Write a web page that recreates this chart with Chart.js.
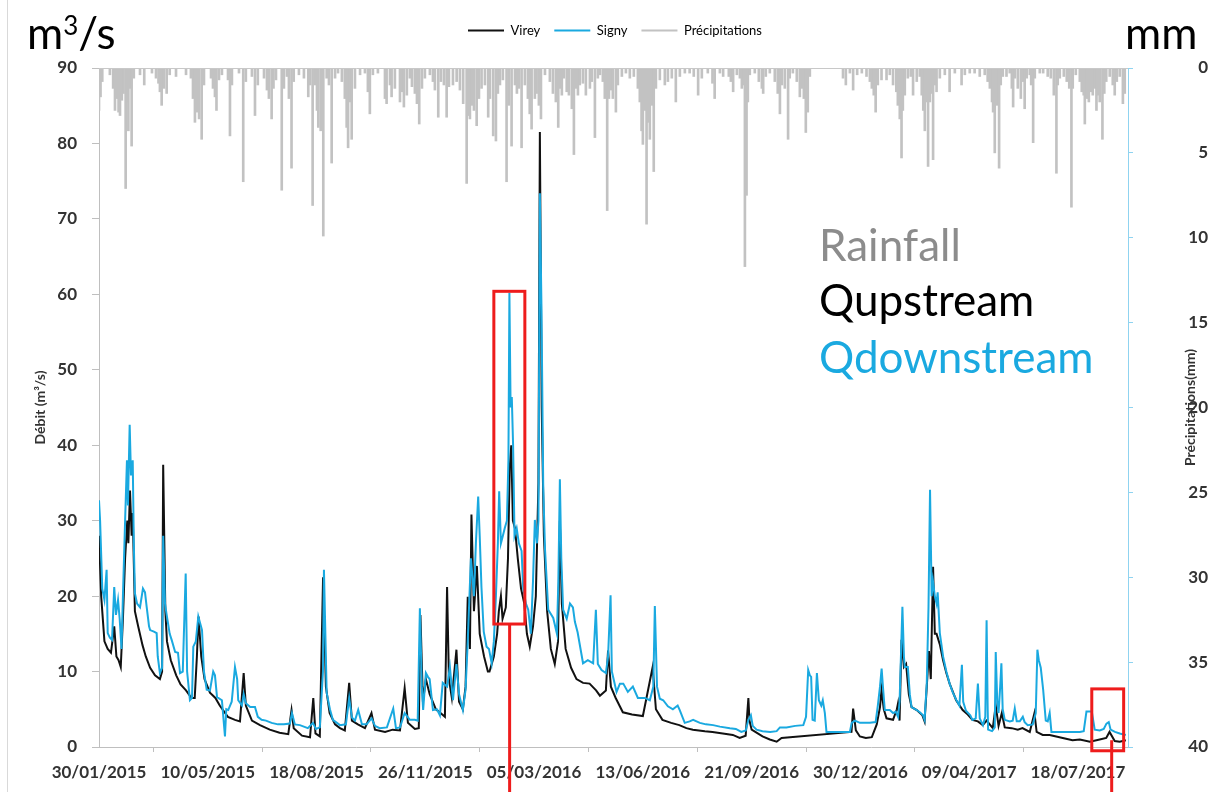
<!DOCTYPE html>
<html>
<head>
<meta charset="utf-8">
<script src="https://cdn.jsdelivr.net/npm/chart.js@4.4.1/dist/chart.umd.min.js"></script>
<style>
  html, body { margin: 0; padding: 0; background: #fff; }
  #wrap { position: relative; width: 1208px; height: 792px; overflow: hidden; }
  #wrap canvas { position: absolute; left: 0; top: 0; }
  .note { position: absolute; font-family: Lato, 'Open Sans', sans-serif; font-size: 44px; line-height: 1; white-space: nowrap; }
  .note .sup { font-size: 26px; line-height: 0; vertical-align: 14px; }
</style>
</head>
<body>
<div id="wrap">
  <canvas id="hydro" width="1208" height="792"></canvas>
  <div class="note" style="left:27px;top:10px;color:#000">m<span class="sup">3</span>/s</div>
  <div class="note" style="left:1125px;top:10px;color:#000">mm</div>
  <div class="note" style="left:819px;top:222px;color:#8c8c8c">Rainfall</div>
  <div class="note" style="left:819px;top:277px;color:#000">Qupstream</div>
  <div class="note" style="left:819px;top:334px;color:#1aa9e0">Qdownstream</div>
</div>
<script>
// jours comptés depuis le 30/01/2015
const vireyDays = [
  0, 2, 5, 8, 11, 14, 16, 18, 20, 22,
  24, 26, 27, 28.5, 30, 31, 33, 36, 40, 43,
  47, 51.5, 56, 58, 59, 61, 62.5, 66, 71, 75,
  80, 85, 88, 90, 91.5, 94, 97, 102, 107, 111,
  118.5, 125, 129.6, 133, 135, 140.6, 148, 157, 166, 174,
  177, 179, 186.6, 194, 197, 199, 203, 206, 208.6, 212,
  217, 221.5, 226, 230, 232.5, 238, 244.5, 250.5, 253.7, 263,
  270, 276.7, 281, 284, 290.4, 294, 295.5, 297.8, 300.5, 304,
  309.7, 314, 318, 320, 321.7, 324.4, 328.6, 331, 334.5, 337,
  339, 341, 342.4, 344.7, 347.4, 350, 354, 357.5, 359, 363,
  366, 367.6, 369.5, 371, 374, 376, 377.6, 379, 380.5, 382.4,
  385, 388, 391, 393.4, 396, 399, 401.6, 404, 405.3, 407,
  409, 412, 415.4, 419, 422, 423.7, 425.5, 429, 434, 439,
  445, 451, 457, 460.5, 466, 468, 470.6, 475, 481.6, 490,
  500, 509, 512, 518, 526, 533.5, 540, 546, 557, 564,
  573.5, 582.7, 589, 594.5, 597, 598, 600, 605.6, 610, 616.7,
  623, 627.5, 691.8, 693.3, 695.8, 699.5, 705, 710.5, 715, 718,
  719.4, 721.5, 724, 730, 733.5, 734.6, 736, 737.8, 740, 742,
  744.5, 747, 751.8, 757, 759, 761, 763, 764.7, 766.8, 768.4,
  770, 773, 776, 779, 782, 788, 794, 798.7, 803, 808,
  812.5, 816, 821.7, 824.4, 827, 830, 832.7, 839, 844.7, 849,
  855.7, 860, 862, 867.6, 874, 880, 886, 895, 901.7, 911,
  920, 926, 929, 933.8, 938.4, 944
];
const vireyQ = [
  28, 20, 14, 13, 12.5, 16, 12, 11.5, 10.6, 17,
  25, 30, 27, 34, 28, 31, 18, 16, 13.5, 12,
  10.5, 9.5, 9, 10, 37.4, 18, 14, 11.5, 9.5, 8.3,
  7.5, 6.5, 6.5, 12, 17.3, 12, 9, 7.2, 6.5, 5.5,
  4, 3.6, 3.4, 9.8, 5.5, 3.5, 2.9, 2.3, 1.9, 1.7,
  4.9, 2.5, 1.5, 1.3, 6.5, 1.8, 1.4, 22.5, 8, 4.5,
  3, 2.5, 2.2, 8.5, 3.5, 3, 2.5, 4.5, 2.3, 2,
  2.3, 2.2, 7.8, 3.2, 2.4, 2.5, 17.5, 6, 9, 7,
  5, 4.5, 4, 21.2, 9, 6.5, 12.9, 6, 5, 8,
  19.9, 13, 30.8, 18, 24, 15, 12, 10, 10, 12,
  15, 18, 20, 17, 18.5, 25, 37, 40, 30, 29,
  25, 21, 19, 15, 13.3, 16, 20, 35, 81.5, 45,
  28, 18, 13, 11, 14, 30, 19, 13, 10.5, 9,
  8.5, 8.4, 7.5, 6.8, 7.5, 12.8, 8, 6.5, 4.6, 4.3,
  4.1, 10.6, 5, 3.6, 3.2, 2.9, 2.5, 2.3, 2.1, 2,
  1.8, 1.6, 1.2, 1.5, 6.5, 3.5, 2.3, 1.8, 1.4, 1,
  0.7, 1.2, 2, 5.1, 2.2, 1.4, 1.2, 1.3, 3, 5.3,
  7.6, 5, 3.8, 3.6, 5, 5.8, 3.5, 14.2, 10.6, 11,
  7, 5.3, 4.9, 4.2, 3.4, 8, 12.7, 9, 23.9, 15,
  15, 13.6, 11.5, 9.8, 8.4, 6.2, 4.9, 4.3, 3.6, 3.4,
  2.9, 3.5, 2.5, 5.5, 2.8, 4.5, 2.6, 2.5, 2.3, 2.5,
  2, 4.5, 2, 1.6, 1.6, 1.4, 1.2, 0.9, 1, 0.7,
  1, 1.2, 2, 0.8, 0.7, 0.9
];

const signyDays = [
  0, 1, 3, 5, 7, 8, 10, 12, 14, 15.6,
  17.5, 19, 20.7, 22, 24, 25.7, 26.6, 28.2, 29.4, 31,
  32, 33, 35, 37.7, 40.4, 42.3, 43.8, 46, 47, 50.5,
  53, 54, 56, 58, 59, 60.7, 62, 65, 66.8, 70,
  72.6, 74.5, 77, 79.7, 81, 83.6, 85.5, 86.7, 89, 91.3,
  92.8, 94.7, 96.5, 99, 102, 105, 106.6, 108.5, 113, 115.8,
  117, 118.8, 122, 125, 127, 128, 131.4, 133, 135, 139,
  143.4, 146, 149.5, 153.5, 158.7, 164.5, 170, 175.5, 177.4, 180,
  184.7, 192, 196.7, 199.4, 203, 205.9, 206.8, 209.3, 212.3, 215,
  221.5, 227, 230, 232.5, 235.3, 238.3, 241.7, 246, 250.6, 253.7,
  258, 264.7, 270.5, 273, 276.7, 281, 285.8, 290.4, 293, 295,
  296.8, 298, 300.5, 302.4, 304, 307, 310.7, 313.4, 316, 320,
  322.6, 325.4, 328.6, 331, 334.5, 337, 339, 341.9, 344.7, 346.5,
  348.6, 350, 351.6, 353.7, 356.3, 358.5, 361, 363, 364.9, 366.7,
  367.9, 369.5, 371.3, 373, 375, 376.4, 377.3, 378.4, 379.5, 380.7,
  382, 384, 386, 388.5, 390, 392.5, 394.6, 397, 399, 400.7,
  402.6, 404, 405.3, 406.8, 408.4, 410, 413, 417.6, 421, 422.3,
  423.7, 425, 426.7, 430, 433, 435.7, 437.5, 440, 445, 449.4,
  454.3, 456.8, 458.6, 462, 466, 468, 470.3, 471.5, 475.8, 478.9,
  482, 486.2, 490.8, 495.4, 501.8, 506.4, 509.6, 511, 513, 515.6,
  518.7, 523, 527.6, 532, 533.9, 538.5, 543, 546.2, 552.4, 558,
  564.6, 570.8, 580, 585.5, 590.5, 594.6, 597, 599.3, 601, 604.5,
  610, 617, 623, 626, 632, 640, 647.5, 650, 652, 653.5,
  654.7, 656, 658, 660, 661.8, 664, 665.4, 667.3, 668.8, 676.5,
  685.6, 690.3, 692, 695, 699.5, 708.7, 714, 716, 718, 719.5,
  720.7, 722.4, 727, 730, 732.5, 734.6, 736, 738.6, 740, 740.8,
  743.6, 745.4, 747, 751.8, 754.6, 757.6, 759, 761, 762.6, 764,
  765.5, 766.7, 768.4, 770, 771, 773, 776, 779, 782, 785,
  788.3, 791, 793.3, 794.5, 797, 801, 803, 806, 808, 809.7,
  812.7, 814.8, 816, 817, 817.4, 821, 823.5, 824.4, 825.8, 827,
  828.5, 829.6, 830.8, 832.7, 837.3, 840, 841.9, 843.7, 846.5, 849.3,
  851, 853.8, 858.5, 861.2, 862.7, 864, 865.8, 868, 870.4, 872.2,
  874, 875.6, 883.3, 892.5, 901.7, 905.3, 907.8, 912.7, 915.4, 920,
  923.7, 926.2, 928.3, 930, 934, 938.4, 944
];
const signyQ = [
  32.7, 30, 21, 19.5, 23.5, 15.1, 14.5, 14.2, 21.2, 17.5,
  19.5, 17, 13, 20, 30, 38, 32, 42.7, 36, 38,
  27, 20.4, 19, 18.5, 21, 20.5, 18.6, 16, 15.5, 15.3,
  15.1, 12, 9.8, 10.5, 28, 19, 17.7, 15, 14.2, 12.6,
  12.5, 9.8, 10, 23, 10, 6.2, 6.5, 13.3, 14, 17.3,
  16.5, 15.5, 10, 7.6, 7.5, 10, 9.5, 6.6, 6.2, 1.4,
  5, 4.9, 6, 10.6, 9, 6.2, 5.5, 7, 5.8, 5.3,
  5.3, 4, 3.6, 3.5, 3.2, 3, 3, 3.1, 4.5, 3,
  2.9, 2.5, 3.2, 2.4, 2.6, 10, 23.5, 7.2, 5, 3.6,
  2.9, 3, 6.5, 3.9, 3.5, 4.9, 3, 3, 3.8, 2.8,
  2.5, 2.6, 5.1, 2.5, 2.6, 4.5, 3.6, 3.6, 3.5, 18.4,
  8, 4.9, 9.8, 9.3, 9, 4.9, 5, 4.2, 8.5, 8,
  10.6, 6.2, 11, 7, 4.9, 7.6, 14, 25, 20, 27,
  33.2, 28, 21.2, 15.3, 13.3, 13, 11.1, 14, 20, 27,
  33.9, 27, 28, 29, 30, 38, 60.2, 45, 46.4, 40,
  28, 29, 27, 26, 21, 19, 18.2, 15, 22, 30.1,
  27, 30, 73.4, 58, 34.5, 26.3, 18.2, 17.1, 15, 22,
  35.5, 25, 18.2, 17, 19, 18.5, 16.6, 15.2, 11.1, 11.5,
  11.1, 18.2, 11, 10.2, 9.8, 12, 20.1, 10, 7.3, 8.4,
  8.4, 7.3, 8, 6.5, 6.5, 6.2, 8, 18.7, 8, 6.4,
  6.2, 5.4, 5, 5.5, 4.9, 3.2, 3.4, 3.6, 3.2, 3,
  2.9, 2.7, 2.5, 2.4, 2, 2.2, 3.6, 4.2, 2.8, 2.3,
  2.1, 2, 2.1, 2.6, 2.6, 2.8, 2.9, 4, 10.2, 9.5,
  9.3, 3.6, 3.5, 9.8, 6.2, 5.5, 6.2, 4.5, 2, 2,
  2, 2, 3.2, 3.5, 3.2, 3.2, 3.3, 5.5, 8, 10.4,
  8, 4.9, 4.9, 4.5, 4.7, 4, 6, 18.6, 12, 10.6,
  10.6, 7, 5.3, 4.9, 4.6, 4.2, 3.6, 8.4, 18.6, 34.1,
  20, 22, 20, 19, 20.5, 15.1, 12, 10, 8.4, 7.2,
  6.2, 5.5, 10.9, 6, 4.8, 4.2, 3.6, 3.8, 8.4, 3.8,
  2.9, 4, 16.8, 5, 2.3, 2.1, 2.6, 12.6, 6, 4.5,
  8, 11.1, 5, 3.6, 3.4, 3.5, 5.1, 3.4, 3.4, 4,
  3.3, 2.9, 3, 4.5, 12.9, 11.5, 10.5, 7.6, 3.5, 3.4,
  4.5, 2, 2, 2, 2, 2.1, 4.7, 4.7, 2.3, 2.2,
  2.4, 3.1, 3.3, 2.3, 2, 1.8, 1.6
];

// précipitations : [jour, mm]
const rainfall = [
  [0, 2.5], [1.4, 1.7], [3, 0.8], [10, 0.4], [13, 1.2], [14.7, 2.5], [16.5, 1.8], [18, 2.6], [19.3, 2.8], [21, 1.9],
  [22.5, 1.5], [24.5, 7.1], [25.7, 2], [27, 3.7], [28.5, 1.2], [30, 4.6], [32, 0.6], [37.7, 0.4], [41.6, 1], [48.7, 0.3],
  [52.4, 0.6], [54.7, 0.9], [56, 1.4], [57.6, 2.2], [59.7, 1.2], [62.2, 1.5], [65, 0.4], [70.8, 0.5], [80, 0.4], [84.5, 0.6],
  [86.4, 1.8], [88.2, 3.2], [90, 2.6], [92, 3], [94.4, 4.2], [96.5, 1], [103, 0.6], [104.8, 1.2], [106.6, 1.7], [108, 2.5],
  [110.3, 0.7], [113, 0.4], [118.6, 0.7], [120.4, 4], [122.2, 1], [128.7, 0.3], [132.6, 6.7], [135, 0.8], [140.6, 0.5], [143.4, 2.8],
  [146, 1], [151.7, 0.6], [154.4, 1.3], [156.2, 1.8], [158.7, 3], [160.4, 1.2], [162.7, 0.7], [168, 7.2], [170, 1.2], [172.8, 0.5],
  [174.6, 1.8], [177, 5.9], [179, 0.8], [183.8, 0.4], [188.4, 0.6], [192.4, 1.7], [194, 1], [196.4, 8.1], [198.5, 1], [200.4, 2.5],
  [201.6, 3.5], [203.8, 3.7], [206.2, 9.9], [209.3, 0.6], [211.4, 1], [213.9, 5.6], [217, 0.6], [219.7, 0.3], [223.3, 0.8], [226, 1.8],
  [227.7, 3.5], [229, 4.7], [230.7, 2], [232.3, 4.2], [235.3, 1.2], [240, 0.4], [244.5, 0.3], [247.2, 1.4], [249, 2.7], [251.8, 0.4],
  [256.4, 0.3], [262.9, 1.8], [264.4, 2.1], [267.5, 1], [269, 1.7], [272, 1.2], [276.7, 2], [278.5, 1.4], [280.3, 2.3], [283, 1.6],
  [285.8, 0.6], [287.7, 1.1], [290.4, 1.5], [292.3, 2.1], [294.4, 3.3], [296.9, 1.2], [299.6, 0.6], [304.2, 0.4], [307, 0.8], [308.8, 1.3],
  [311.9, 2.9], [314.3, 0.8], [317.1, 1], [319.6, 2.9], [321.7, 1.1], [325.4, 1], [328.8, 0.8], [331.8, 1.3], [334.8, 2.1], [338, 6.8],
  [339.6, 2.8], [341, 3], [342.8, 2.2], [344.7, 2.5], [347.2, 3.4], [349.3, 1.8], [351.7, 1.2], [354.8, 1], [357.8, 2.9], [359.4, 1.8],
  [362.4, 4], [364.9, 4.3], [366.7, 1.5], [368.6, 1], [371.3, 0.7], [374.7, 6.7], [376.8, 2.2], [379.3, 4.6], [382.4, 1], [384.2, 1.5],
  [386, 1.2], [388.5, 4.7], [391.5, 1], [394.3, 1.8], [396, 2.7], [397.7, 3.6], [400.7, 1.8], [402.3, 1.5], [404.4, 2.2], [406.3, 3],
  [410, 0.4], [414.5, 0.8], [417.3, 1.5], [420, 2], [422.2, 3.5], [423.7, 1.2], [425.5, 1.6], [427.3, 0.6], [430, 1.4], [432, 1.6],
  [434.7, 2.4], [436.6, 5.1], [438.4, 1.2], [440.3, 1.6], [442, 1], [444.9, 0.9], [447.6, 1.6], [451.3, 1.2], [453, 0.8], [455.9, 4.1],
  [458.6, 0.6], [460.5, 0.4], [463.2, 0.8], [465, 1.8], [467.2, 8.4], [468.8, 1.8], [470.6, 1.3], [472.4, 1.8], [475.2, 2.6], [477, 1],
  [480.7, 0.5], [484.4, 0.3], [488, 0.6], [491.7, 0.5], [495.4, 1.2], [497.2, 2], [498.8, 3.7], [500, 4.5], [501.6, 2.5], [503.4, 9.2],
  [504.6, 3.2], [506.4, 4.2], [508.3, 2.2], [510, 6.1], [512, 1.2], [515.6, 0.7], [520.2, 1], [523, 0.8], [526.6, 0.6], [530.3, 2],
  [534, 0.5], [538.6, 0.3], [543, 0.3], [546.8, 0.5], [550.8, 1.6], [554.2, 0.6], [559.7, 0.3], [564, 0.9], [566, 1.8], [570.8, 0.3],
  [573.8, 0.5], [579, 0.5], [580.9, 0.8], [583, 1.4], [586.4, 0.4], [589.2, 0.6], [591, 1.2], [592.8, 1], [593.8, 11.7], [595.3, 7.5],
  [596.5, 2], [598.3, 0.4], [602.9, 0.3], [606.6, 0.8], [609.4, 1.2], [610.6, 1.5], [613, 0.5], [616.7, 0.3], [621.3, 0.8], [624, 1.5],
  [626, 2.7], [627.8, 1], [630.5, 1.2], [633.5, 4.2], [635, 0.6], [637.9, 0.3], [641.5, 0.8], [644.3, 1.7], [646.1, 1.2], [648, 1.8],
  [649.8, 3.8], [651.6, 2.6], [653.5, 0.5], [684, 0.6], [686.6, 1], [690.3, 0.3], [693.3, 1.3], [697, 0.4], [701.3, 0.3], [705.6, 0.5],
  [708.7, 0.8], [710.5, 1.2], [712.3, 1.6], [714, 2.6], [716, 1], [719.4, 0.7], [724, 0.7], [727, 0.4], [730, 1], [733, 1.4],
  [734.4, 2.2], [736.2, 3], [737.8, 5.3], [739, 2.5], [740.8, 1.6], [743.6, 0.6], [746.3, 0.5], [748.4, 1.6], [751.8, 0.8], [754.6, 0.5],
  [756.4, 1.6], [757.8, 2.5], [759.2, 3.7], [760.6, 2], [762.2, 5.8], [763.8, 2], [765.4, 1.5], [766.8, 5.4], [768.4, 1], [770, 1.4],
  [773, 0.6], [777.6, 0.4], [782, 1.4], [786.8, 0.3], [793, 1], [796, 0.4], [800.5, 0.3], [805, 0.3], [809.7, 0.5], [814.3, 0.4],
  [817, 0.8], [819, 1.2], [821, 2], [822, 2.6], [823.5, 5], [825.4, 2.2], [827.5, 5.9], [829, 1], [830.9, 0.5], [834.3, 0.5],
  [837.3, 0.3], [839.2, 1.2], [840.4, 2.3], [842, 0.6], [844.7, 1.2], [847.5, 1.8], [849.3, 0.8], [851, 2.4], [852.9, 0.6], [855.7, 0.4],
  [857, 1], [858.8, 4.4], [860.3, 0.6], [864.9, 0.3], [868, 0.3], [872.2, 0.5], [875, 0.6], [877.8, 1.6], [880.2, 6.2], [881.4, 1],
  [883.3, 0.6], [887, 0.5], [889.7, 0.8], [892, 1.2], [894, 8.2], [895.2, 1.2], [898, 0.4], [901.7, 0.8], [903.5, 1.4], [905.3, 1.6],
  [906.3, 3.3], [908, 1.8], [910, 2], [911.8, 1.4], [913.6, 1.6], [915.4, 1.2], [917, 2.5], [918.6, 1.6], [920, 2], [922.5, 4.2],
  [924.2, 1.5], [926, 0.8], [929.2, 0.5], [932, 1], [933.8, 1.6], [935.7, 0.8], [938.4, 0.5], [941.3, 2.1], [943, 1.5]
];

const lastDay = 946;
const startDate = Date.UTC(2015, 0, 30);

// cadres rouges (jour début, jour fin, débit haut, débit bas, jour du trait)
const zoomBoxes = [
  { from: 363, to: 391.5, top: 60.4, bottom: 16.3, leader: 377.5, leaderFrom: 16.3 },
  { from: 912.7, to: 942, top: 7.7, bottom: -0.5, leader: 931, leaderFrom: 0.9 }
];

function dayLabel(d) {
  const dt = new Date(startDate + d * 86400000);
  const dd = String(dt.getUTCDate()).padStart(2, '0');
  const mm = String(dt.getUTCMonth() + 1).padStart(2, '0');
  return dd + '/' + mm + '/' + dt.getUTCFullYear();
}

const toPoints = (days, vals) => days.map((d, i) => ({ x: d, y: vals[i] }));

const tickFont = { family: 'Lato', size: 17, weight: 'bold' };

// place libre sous la légende, légende un peu décalée à droite
const legendSpace = {
  id: 'legendSpace',
  beforeInit(chart) {
    const fit = chart.legend.fit;
    chart.legend.fit = function () {
      fit.call(this);
      this.height += 21;
    };
  },
  afterLayout(chart) {
    chart.legend.left += 11;
    chart.legend.right += 11;
  }
};

const decorations = {
  id: 'decorations',
  afterDraw(chart) {
    const { ctx, chartArea, scales: { x, y } } = chart;
    ctx.save();
    // bord gauche du graphique
    ctx.strokeStyle = '#d9d9d9';
    ctx.lineWidth = 1;
    ctx.beginPath();
    ctx.moveTo(7.5, 0);
    ctx.lineTo(7.5, 792);
    ctx.stroke();
    // base des barres de pluie
    ctx.strokeStyle = '#c8c8c8';
    ctx.beginPath();
    ctx.moveTo(chartArea.left, chartArea.top + 0.5);
    ctx.lineTo(chartArea.right, chartArea.top + 0.5);
    ctx.stroke();

    // cadres rouges
    ctx.strokeStyle = '#ee1c1c';
    ctx.lineWidth = 3;
    zoomBoxes.forEach(b => {
      const l = x.getPixelForValue(b.from);
      const r = x.getPixelForValue(b.to);
      const t = y.getPixelForValue(b.top);
      const btm = y.getPixelForValue(b.bottom);
      ctx.strokeRect(l, t, r - l, btm - t);
      const lx = x.getPixelForValue(b.leader);
      ctx.beginPath();
      ctx.moveTo(lx, y.getPixelForValue(b.leaderFrom));
      ctx.lineTo(lx, chart.height);
      ctx.stroke();
    });

    // titre de l'axe secondaire
    ctx.fillStyle = '#333';
    ctx.font = 'bold 14px Lato';
    ctx.textAlign = 'center';
    ctx.textBaseline = 'middle';
    ctx.translate(1190, (chartArea.top + chartArea.bottom) / 2);
    ctx.rotate(-Math.PI / 2);
    ctx.fillText('Précipitations(mm)', 0, 0);
    ctx.restore();
  }
};

new Chart(document.getElementById('hydro'), {
  type: 'line',
  data: {
    datasets: [
      {
        label: 'Virey',
        data: toPoints(vireyDays, vireyQ),
        borderColor: '#111',
        backgroundColor: '#111',
        borderWidth: 2,
        pointRadius: 0,
        tension: 0,
        yAxisID: 'y',
        order: 1
      },
      {
        label: 'Signy',
        data: toPoints(signyDays, signyQ),
        borderColor: '#1aa9e0',
        backgroundColor: '#1aa9e0',
        borderWidth: 2,
        pointRadius: 0,
        tension: 0,
        yAxisID: 'y',
        order: 0
      },
      {
        type: 'bar',
        label: 'Précipitations',
        data: rainfall.map(r => ({ x: r[0], y: r[1] })),
        backgroundColor: '#c2c2c2',
        borderWidth: 0,
        barThickness: 2,
        yAxisID: 'y1',
        order: 2
      }
    ]
  },
  options: {
    responsive: false,
    animation: false,
    layout: { padding: { top: 10, left: 0, right: 0, bottom: 0 } },
    plugins: {
      legend: {
        position: 'top',
        labels: {
          boxWidth: 36,
          boxHeight: 2,
          padding: 14,
          color: '#595959',
          font: { family: 'Lato', size: 13 },
          generateLabels: chart => chart.data.datasets.map((ds, i) => ({
            text: ds.label,
            fillStyle: ds.type === 'bar' ? ds.backgroundColor : ds.borderColor,
            strokeStyle: ds.type === 'bar' ? ds.backgroundColor : ds.borderColor,
            lineWidth: 0,
            hidden: false,
            datasetIndex: i
          }))
        }
      },
      tooltip: { enabled: false }
    },
    scales: {
      x: {
        type: 'linear',
        min: 0,
        max: lastDay,
        offset: false,
        grid: { display: true, drawOnChartArea: false, drawTicks: true, tickLength: 5, color: '#bfbfbf' },
        border: { color: '#bfbfbf' },
        ticks: {
          stepSize: 100,
          includeBounds: false,
          autoSkip: false,
          maxRotation: 0,
          padding: 10,
          color: '#333',
          font: tickFont,
          callback: v => dayLabel(v)
        },
        afterFit: s => { s.height = 45; }
      },
      y: {
        position: 'left',
        min: 0,
        max: 90,
        grid: { drawOnChartArea: false, tickLength: 7, color: '#bfbfbf' },
        border: { color: '#bfbfbf' },
        ticks: { stepSize: 10, padding: 15, color: '#333', font: tickFont },
        title: {
          display: true,
          text: 'Débit (m³/s)',
          color: '#333',
          font: { family: 'Lato', size: 14, weight: 'bold' },
          padding: { top: 32, bottom: 0 }
        },
        afterFit: s => { s.width = 99; }
      },
      y1: {
        position: 'right',
        reverse: true,
        min: 0,
        max: 40,
        grid: { drawOnChartArea: false, tickLength: 5, color: '#8fd3f0' },
        border: { color: '#8fd3f0' },
        ticks: { stepSize: 5, padding: 8, crossAlign: 'far', color: '#333', font: tickFont },
        afterFit: s => { s.width = 80; }
      }
    }
  },
  plugins: [legendSpace, decorations]
});
</script>
</body>
</html>
